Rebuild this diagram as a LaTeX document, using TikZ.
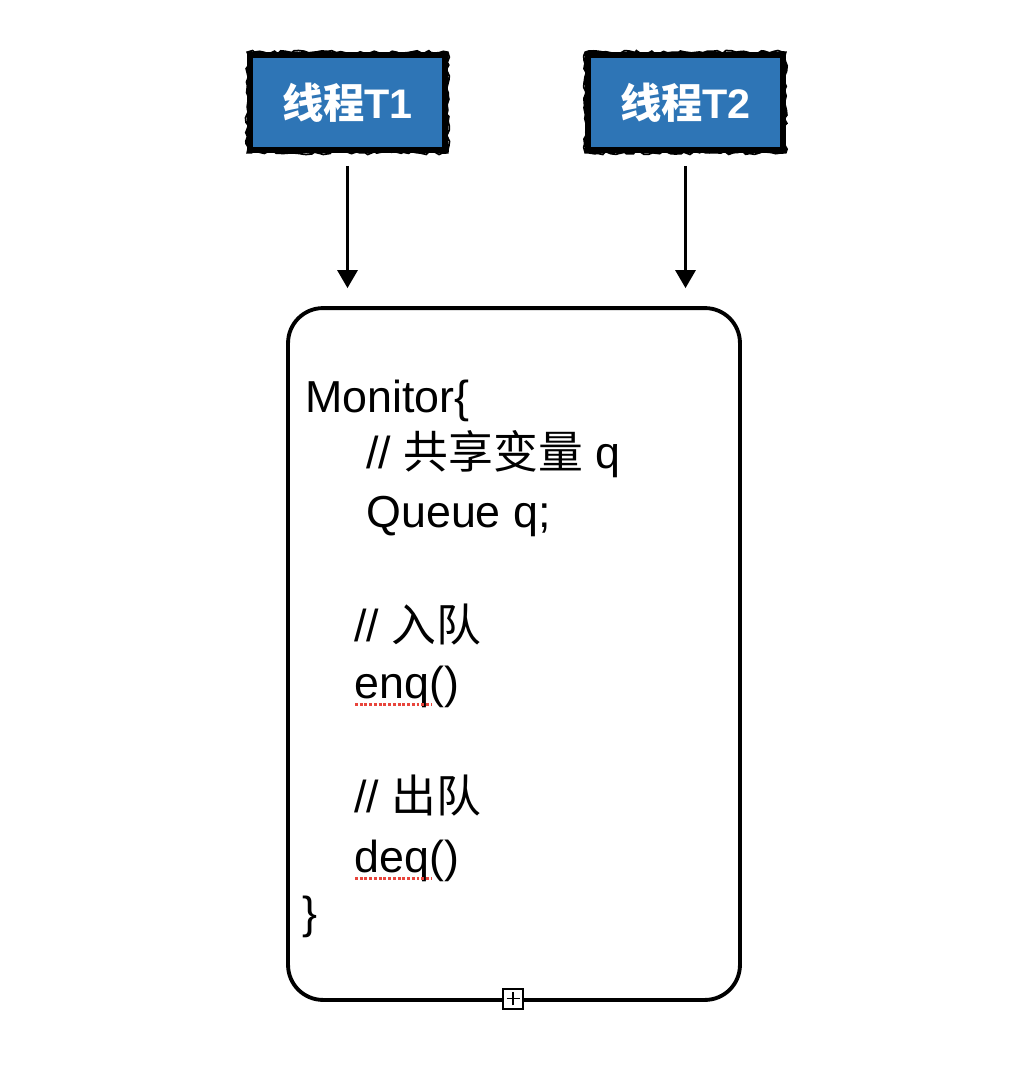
\documentclass[tikz,border=0pt]{standalone}
\usepackage{fontspec}
\setmainfont{Liberation Sans}
\newfontfamily\cjk{Noto Sans CJK SC}
\usetikzlibrary{arrows.meta,decorations.pathmorphing}
\definecolor{tblue}{HTML}{2E75B6}
\definecolor{spell}{HTML}{E8453C}
\begin{document}
\begin{tikzpicture}[x=0.02cm,y=-0.02cm,
 thread/.style={fill=tblue, draw=black, line width=3.2pt, minimum width=3.9cm, minimum height=1.9cm, inner sep=0pt, text=white, font=\fontsize{23.5}{28}\selectfont\bfseries},
 code/.style={anchor=base west, inner sep=0pt, font=\fontsize{25.5}{30}\selectfont},
 arr/.style={line width=1.7pt, -{Triangle[width=0.4cm,length=0.36cm]}, shorten <=0.26cm, shorten >=0.36cm},
 rough/.style={decorate, decoration={random steps, segment length=2.5pt, amplitude=1pt}},
 spellline/.style={draw=spell, line width=1.7pt, dash pattern=on 1.6pt off 1.1pt}
]
\useasboundingbox (0,0) rectangle (1034,1072);

% thread boxes
\node[thread] (t1) at (347.5,102.5) {{\cjk 线程}T1};
\node[thread] (t2) at (685.5,102.5) {{\cjk 线程}T2};
\draw[rough, line width=1pt] (t1.south west) rectangle (t1.north east);
\draw[rough, line width=1pt] (t2.south west) rectangle (t2.north east);

% monitor box
\node[draw, line width=2.2pt, rounded corners=0.7cm, minimum width=9.04cm, minimum height=13.84cm] (mon) at (514,654) {};

% arrows
\draw[arr] (t1.south) -- (t1.south |- mon.north);
\draw[arr] (t2.south) -- (t2.south |- mon.north);

% code text
\node[code] (l1) at (305,412) {Monitor\{};
\node[code] (l2) at (366,468) {// {\cjk 共享变量} q};
\node[code] (l3) at (366,527) {Queue q;};
\node[code] (l4) at (354,641) {// {\cjk 入队}};
\node[code] (l5) at (354,698) {enq()};
\node[code] (l6) at (354,812) {// {\cjk 出队}};
\node[code] (l7) at (354,872) {deq()};
\node[code] (l8) at (302,928) {\}};

% spell-check underlines
\draw[spellline] ([shift={(1,6)}]l5.base west) -- ++(77,0);
\draw[spellline] ([shift={(1,6)}]l7.base west) -- ++(77,0);

% plus handle
\node[draw, fill=white, line width=0.8pt, minimum size=0.4cm, inner sep=0pt] (plus) at ([shift={(-1,-3)}]mon.south) {};
\draw[line width=0.7pt] ([xshift=-0.13cm]plus.center) -- ([xshift=0.13cm]plus.center);
\draw[line width=0.7pt] ([yshift=-0.13cm]plus.center) -- ([yshift=0.13cm]plus.center);
\end{tikzpicture}
\end{document}
